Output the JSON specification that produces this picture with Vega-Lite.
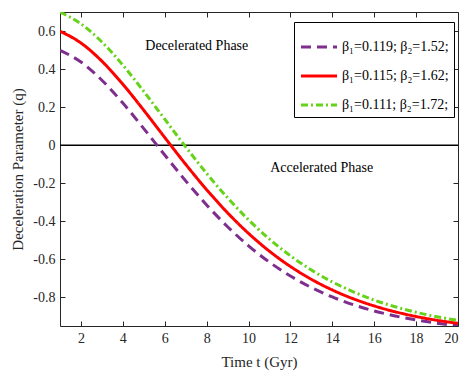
{
  "$schema": "https://vega.github.io/schema/vega-lite/v6.json",
  "width": 398,
  "height": 314,
  "autosize": "none",
  "padding": {"left": 60, "top": 12, "right": 3, "bottom": 44},
  "background": "white",
  "config": {
    "font": "Liberation Serif",
    "view": {"stroke": null},
    "axis": {
      "domainColor": "#262626",
      "tickColor": "#262626",
      "labelColor": "#262626",
      "titleColor": "#262626",
      "tickSize": -5,
      "labelPadding": 10,
      "labelFont": "Liberation Serif",
      "titleFont": "Liberation Serif",
      "labelFontSize": 14,
      "titleFontSize": 15,
      "titleFontWeight": "normal",
      "grid": false,
      "domainWidth": 1
    },
    "legend": {
      "labelFont": "Liberation Serif",
      "labelFontSize": 14,
      "labelColor": "black"
    }
  },
  "datasets": {
    "curves": [
      {"t": 1, "q": 0.4987, "s": "β₁=0.119; β₂=1.52;"},
      {"t": 2, "q": 0.4371, "s": "β₁=0.119; β₂=1.52;"},
      {"t": 3, "q": 0.3416, "s": "β₁=0.119; β₂=1.52;"},
      {"t": 4, "q": 0.2217, "s": "β₁=0.119; β₂=1.52;"},
      {"t": 5, "q": 0.0874, "s": "β₁=0.119; β₂=1.52;"},
      {"t": 6, "q": -0.0515, "s": "β₁=0.119; β₂=1.52;"},
      {"t": 7, "q": -0.1872, "s": "β₁=0.119; β₂=1.52;"},
      {"t": 8, "q": -0.3139, "s": "β₁=0.119; β₂=1.52;"},
      {"t": 9, "q": -0.4282, "s": "β₁=0.119; β₂=1.52;"},
      {"t": 10, "q": -0.5286, "s": "β₁=0.119; β₂=1.52;"},
      {"t": 11, "q": -0.6147, "s": "β₁=0.119; β₂=1.52;"},
      {"t": 12, "q": -0.6874, "s": "β₁=0.119; β₂=1.52;"},
      {"t": 13, "q": -0.7478, "s": "β₁=0.119; β₂=1.52;"},
      {"t": 14, "q": -0.7975, "s": "β₁=0.119; β₂=1.52;"},
      {"t": 15, "q": -0.8381, "s": "β₁=0.119; β₂=1.52;"},
      {"t": 16, "q": -0.8709, "s": "β₁=0.119; β₂=1.52;"},
      {"t": 17, "q": -0.8973, "s": "β₁=0.119; β₂=1.52;"},
      {"t": 18, "q": -0.9184, "s": "β₁=0.119; β₂=1.52;"},
      {"t": 19, "q": -0.9353, "s": "β₁=0.119; β₂=1.52;"},
      {"t": 20, "q": -0.9488, "s": "β₁=0.119; β₂=1.52;"},
      {"t": 1, "q": 0.5988, "s": "β₁=0.115; β₂=1.62;"},
      {"t": 2, "q": 0.5372, "s": "β₁=0.115; β₂=1.62;"},
      {"t": 3, "q": 0.4415, "s": "β₁=0.115; β₂=1.62;"},
      {"t": 4, "q": 0.3204, "s": "β₁=0.115; β₂=1.62;"},
      {"t": 5, "q": 0.1836, "s": "β₁=0.115; β₂=1.62;"},
      {"t": 6, "q": 0.0407, "s": "β₁=0.115; β₂=1.62;"},
      {"t": 7, "q": -0.1003, "s": "β₁=0.115; β₂=1.62;"},
      {"t": 8, "q": -0.2336, "s": "β₁=0.115; β₂=1.62;"},
      {"t": 9, "q": -0.3553, "s": "β₁=0.115; β₂=1.62;"},
      {"t": 10, "q": -0.4633, "s": "β₁=0.115; β₂=1.62;"},
      {"t": 11, "q": -0.5572, "s": "β₁=0.115; β₂=1.62;"},
      {"t": 12, "q": -0.6372, "s": "β₁=0.115; β₂=1.62;"},
      {"t": 13, "q": -0.7046, "s": "β₁=0.115; β₂=1.62;"},
      {"t": 14, "q": -0.7606, "s": "β₁=0.115; β₂=1.62;"},
      {"t": 15, "q": -0.8068, "s": "β₁=0.115; β₂=1.62;"},
      {"t": 16, "q": -0.8445, "s": "β₁=0.115; β₂=1.62;"},
      {"t": 17, "q": -0.8752, "s": "β₁=0.115; β₂=1.62;"},
      {"t": 18, "q": -0.9000, "s": "β₁=0.115; β₂=1.62;"},
      {"t": 19, "q": -0.9201, "s": "β₁=0.115; β₂=1.62;"},
      {"t": 20, "q": -0.9362, "s": "β₁=0.115; β₂=1.62;"},
      {"t": 1, "q": 0.6990, "s": "β₁=0.111; β₂=1.72;"},
      {"t": 2, "q": 0.6379, "s": "β₁=0.111; β₂=1.72;"},
      {"t": 3, "q": 0.5425, "s": "β₁=0.111; β₂=1.72;"},
      {"t": 4, "q": 0.4210, "s": "β₁=0.111; β₂=1.72;"},
      {"t": 5, "q": 0.2826, "s": "β₁=0.111; β₂=1.72;"},
      {"t": 6, "q": 0.1367, "s": "β₁=0.111; β₂=1.72;"},
      {"t": 7, "q": -0.0089, "s": "β₁=0.111; β₂=1.72;"},
      {"t": 8, "q": -0.1480, "s": "β₁=0.111; β₂=1.72;"},
      {"t": 9, "q": -0.2765, "s": "β₁=0.111; β₂=1.72;"},
      {"t": 10, "q": -0.3920, "s": "β₁=0.111; β₂=1.72;"},
      {"t": 11, "q": -0.4935, "s": "β₁=0.111; β₂=1.72;"},
      {"t": 12, "q": -0.5811, "s": "β₁=0.111; β₂=1.72;"},
      {"t": 13, "q": -0.6556, "s": "β₁=0.111; β₂=1.72;"},
      {"t": 14, "q": -0.7183, "s": "β₁=0.111; β₂=1.72;"},
      {"t": 15, "q": -0.7705, "s": "β₁=0.111; β₂=1.72;"},
      {"t": 16, "q": -0.8136, "s": "β₁=0.111; β₂=1.72;"},
      {"t": 17, "q": -0.8490, "s": "β₁=0.111; β₂=1.72;"},
      {"t": 18, "q": -0.8780, "s": "β₁=0.111; β₂=1.72;"},
      {"t": 19, "q": -0.9016, "s": "β₁=0.111; β₂=1.72;"},
      {"t": 20, "q": -0.9207, "s": "β₁=0.111; β₂=1.72;"}
    ],
    "notes": [
      {"t": 7.53, "q": 0.52, "label": "Decelerated Phase"},
      {"t": 13.49, "q": -0.12, "label": "Accelerated Phase"}
    ]
  },
  "layer": [
    {
      "data": {"values": [{}]},
      "mark": {"type": "rule", "color": "black", "strokeWidth": 1.5},
      "encoding": {
        "y": {"datum": 0, "type": "quantitative", "axis": null, "scale": {"domain": [-0.95, 0.7], "nice": false, "zero": false}}
      }
    },
    {
      "data": {"name": "curves"},
      "mark": {"type": "line", "strokeWidth": 3, "clip": true, "interpolate": "monotone"},
      "encoding": {
        "x": {
          "field": "t", "type": "quantitative",
          "scale": {"domain": [1, 20], "nice": false, "zero": false},
          "axis": {"orient": "bottom", "values": [2, 4, 6, 8, 10, 12, 14, 16, 18, 20], "title": "Time t (Gyr)", "titlePadding": 9, "labelFont": "Liberation Serif", "labelFontSize": 14}
        },
        "y": {
          "field": "q", "type": "quantitative",
          "scale": {"domain": [-0.95, 0.7], "nice": false, "zero": false},
          "axis": {"orient": "left", "values": [-0.8, -0.6, -0.4, -0.2, 0, 0.2, 0.4, 0.6], "labelExpr": "replace(format(datum.value, '.1~f'), '\u2212', '-')", "title": "Deceleration Parameter (q)", "titlePadding": 7, "labelFont": "Liberation Serif", "labelFontSize": 14}
        },
        "color": {
          "field": "s", "type": "nominal",
          "scale": {"domain": ["β₁=0.119; β₂=1.52;", "β₁=0.115; β₂=1.62;", "β₁=0.111; β₂=1.72;"], "range": ["#7E2F8E", "#FF0000", "#66D31A"]},
          "legend": {"title": null, "orient": "none", "legendX": 234, "legendY": 10, "strokeColor": "black", "fillColor": "white", "padding": 5, "symbolType": "stroke", "symbolSize": 1300, "symbolStrokeWidth": 3, "rowPadding": 2, "labelOffset": 3, "labelFont": "Liberation Serif"}
        },
        "strokeDash": {
          "field": "s", "type": "nominal",
          "scale": {"domain": ["β₁=0.119; β₂=1.52;", "β₁=0.115; β₂=1.62;", "β₁=0.111; β₂=1.72;"], "range": [[10, 6], [1, 0], [7, 3, 2, 3]]},
          "legend": {"title": null, "orient": "none", "legendX": 234, "legendY": 10, "strokeColor": "black", "fillColor": "white", "padding": 5, "symbolType": "stroke", "symbolSize": 1300, "symbolStrokeWidth": 3, "rowPadding": 2, "labelOffset": 3, "labelFont": "Liberation Serif"}
        }
      }
    },
    {
      "data": {"name": "notes"},
      "mark": {"type": "text", "fontSize": 14, "font": "Liberation Serif", "color": "black"},
      "encoding": {
        "x": {"field": "t", "type": "quantitative", "scale": {"domain": [1, 20], "nice": false, "zero": false}, "axis": {"orient": "top", "labels": false, "title": null, "values": [2, 4, 6, 8, 10, 12, 14, 16, 18, 20]}},
        "y": {"field": "q", "type": "quantitative", "scale": {"domain": [-0.95, 0.7], "nice": false, "zero": false}, "axis": {"orient": "right", "labels": false, "title": null, "values": [-0.8, -0.6, -0.4, -0.2, 0, 0.2, 0.4, 0.6]}},
        "text": {"field": "label"}
      }
    }
  ],
  "resolve": {"axis": {"x": "independent", "y": "independent"}}
}
